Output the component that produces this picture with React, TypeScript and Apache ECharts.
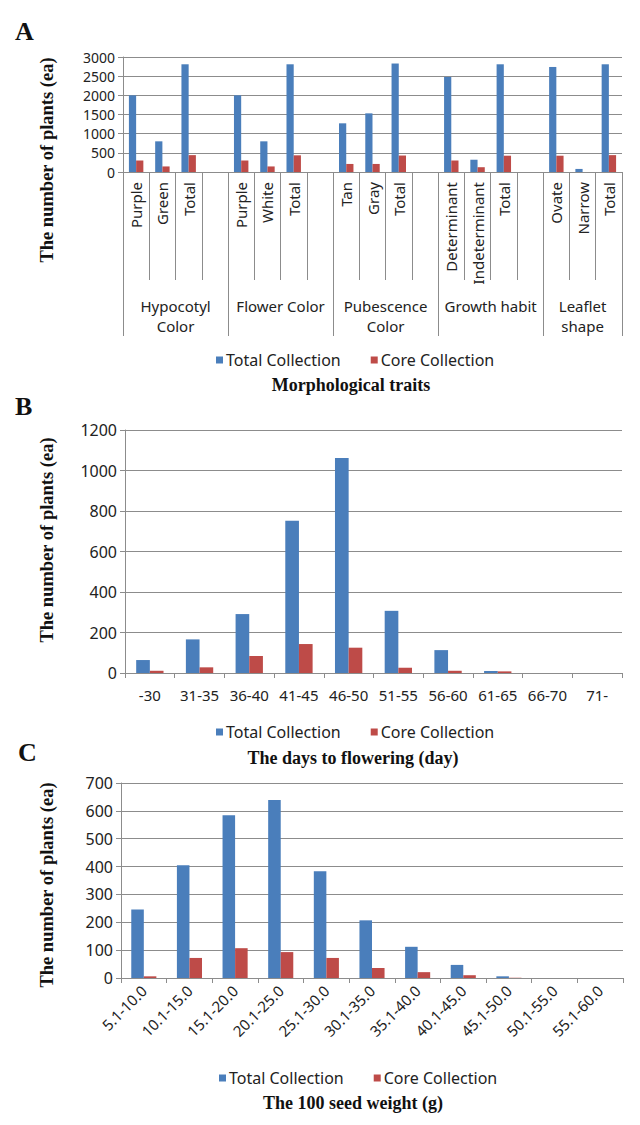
import React, { useEffect, useRef } from "react";
import * as echarts from "echarts";

// ---------- Data ----------
const SERIES_NAMES = ["Total Collection", "Core Collection"];

// Panel A: morphological traits
const CATEGORIES_A = [
  "Purple", "Green", "Total", "",
  "Purple", "White", "Total", "",
  "Tan", "Gray", "Total", "",
  "Determinant", "Indeterminant", "Total", "",
  "Ovate", "Narrow", "Total",
];
const TOTAL_A = [
  2000, 800, 2810, null,
  2000, 800, 2810, null,
  1270, 1530, 2830, null,
  2480, 320, 2810, null,
  2740, 80, 2810,
];
const CORE_A = [
  300, 145, 440, null,
  300, 145, 435, null,
  210, 210, 430, null,
  300, 125, 425, null,
  425, 0, 440,
];
const GROUPS_A = ["Hypocotyl\nColor", "Flower Color", "Pubescence\nColor", "Growth habit", "Leaflet\nshape"];
const GROUP_SIZES_A = [4, 4, 4, 4, 3];

// Panel B: days to flowering
const CATEGORIES_B = ["-30", "31-35", "36-40", "41-45", "46-50", "51-55", "56-60", "61-65", "66-70", "71-"];
const TOTAL_B = [64, 166, 291, 752, 1062, 307, 113, 10, 0, 0];
const CORE_B = [11, 28, 84, 143, 125, 26, 11, 8, 0, 0];

// Panel C: 100 seed weight
const CATEGORIES_C = [
  "5.1-10.0", "10.1-15.0", "15.1-20.0", "20.1-25.0", "25.1-30.0", "30.1-35.0",
  "35.1-40.0", "40.1-45.0", "45.1-50.0", "50.1-55.0", "55.1-60.0",
];
const TOTAL_C = [246, 405, 584, 639, 383, 207, 112, 47, 6, 0, 0];
const CORE_C = [6, 72, 107, 93, 72, 36, 21, 10, 1, 0, 0];

const Y_TITLE = "The number of plants (ea)";

// ---------- Styles ----------
const BLUE = "#4a7ebb";
const RED = "#be4b48";
const GRID_COLOR = "#8c8c8c";
const TEXT = "#222";
const SANS = "Noto Sans";
const SERIF = "Liberation Serif";

export default function App() {
  const ref = useRef<HTMLDivElement>(null);

  useEffect(() => {
    if (!ref.current) return;
    const chart = echarts.init(ref.current, null, { renderer: "svg" });

    // group boundaries / centres for panel A (in category units)
    const bounds: number[] = [0];
    GROUP_SIZES_A.forEach((s) => bounds.push(bounds[bounds.length - 1] + s));
    const centers = GROUP_SIZES_A.map((s, i) => bounds[i] + s / 2);

    const yAxisBase = (max: number, interval: number, gridIndex: number, fontSize: number) => ({
      type: "value",
      gridIndex,
      min: 0,
      max,
      interval,
      axisLine: { show: true, lineStyle: { color: GRID_COLOR } },
      axisTick: { show: true, length: 5, lineStyle: { color: GRID_COLOR } },
      axisLabel: {
        fontSize,
        lineHeight: fontSize,
        color: TEXT,
        fontFamily: SANS,
        margin: 8,
        formatter: (v: number) => String(v),
      },
      splitLine: { show: true, lineStyle: { color: GRID_COLOR, width: 1 } },
    });

    const barSeries = (name: string, data: (number | null)[], xi: number, yi: number, color: string) => ({
      type: "bar",
      name,
      data,
      xAxisIndex: xi,
      yAxisIndex: yi,
      itemStyle: { color },
      barGap: "0%",
      barCategoryGap: "45%",
    });

    const legend = (left: number, top: number) => ({
      data: SERIES_NAMES,
      left,
      top,
      icon: "rect",
      itemWidth: 7,
      itemHeight: 7,
      itemGap: 30,
      padding: 0,
      selectedMode: false,
      textStyle: { fontSize: 16, color: TEXT, fontFamily: SANS, padding: [0, 0, 0, -2] },
    });

    const text = (str: string, x: number, y: number, size: number, rotation = 0, align = "center") => ({
      type: "text",
      x,
      y,
      rotation,
      style: {
        text: str,
        fontFamily: SERIF,
        fontWeight: "bold",
        fontSize: size,
        fill: "#111",
        align,
        verticalAlign: "middle",
      },
    });

    const option: any = {
      animation: false,
      backgroundColor: "#fff",
      grid: [
        { left: 123, width: 499, top: 57, height: 115 },
        { left: 125, width: 497, top: 430, height: 243 },
        { left: 121, width: 502, top: 783, height: 195 },
      ],
      xAxis: [
        {
          type: "category",
          gridIndex: 0,
          position: "bottom",
          data: CATEGORIES_A,
          axisLine: { show: true, lineStyle: { color: GRID_COLOR } },
          axisTick: { show: true, interval: 0, length: 108, lineStyle: { color: GRID_COLOR } },
          axisLabel: { interval: 0, rotate: 90, margin: 10, fontSize: 15, color: TEXT, fontFamily: SANS },
          splitLine: { show: false },
        },
        {
          type: "value",
          gridIndex: 0,
          position: "bottom",
          offset: 0,
          min: 0,
          max: bounds[bounds.length - 1],
          axisLine: { show: false },
          splitLine: { show: false },
          axisTick: {
            show: true,
            customValues: bounds,
            length: 164,
            lineStyle: { color: GRID_COLOR },
          },
          axisLabel: {
            show: true,
            customValues: centers,
            formatter: (v: number) => {
              const i = centers.findIndex((c) => Math.abs(c - v) < 1e-6);
              return i >= 0 ? GROUPS_A[i] : "";
            },
            margin: 124,
            lineHeight: 20,
            fontSize: 15,
            color: TEXT,
            fontFamily: SANS,
          },
        },
        {
          type: "category",
          gridIndex: 1,
          data: CATEGORIES_B,
          axisLine: { show: true, lineStyle: { color: GRID_COLOR } },
          axisTick: { show: true, interval: 0, length: 5, lineStyle: { color: GRID_COLOR } },
          axisLabel: { interval: 0, margin: 14, fontSize: 15, color: TEXT, fontFamily: SANS },
        },
        {
          type: "category",
          gridIndex: 2,
          data: CATEGORIES_C,
          axisLine: { show: true, lineStyle: { color: GRID_COLOR } },
          axisTick: { show: true, interval: 0, length: 5, lineStyle: { color: GRID_COLOR } },
          axisLabel: { interval: 0, rotate: 45, margin: 10, fontSize: 15, color: TEXT, fontFamily: SANS },
        },
      ],
      yAxis: [yAxisBase(3000, 500, 0, 14), yAxisBase(1200, 200, 1, 16), yAxisBase(700, 100, 2, 16)],
      legend: [legend(216, 352), legend(216, 724), legend(219, 1070)],
      series: [
        barSeries(SERIES_NAMES[0], TOTAL_A, 0, 0, BLUE),
        barSeries(SERIES_NAMES[1], CORE_A, 0, 0, RED),
        barSeries(SERIES_NAMES[0], TOTAL_B, 2, 1, BLUE),
        barSeries(SERIES_NAMES[1], CORE_B, 2, 1, RED),
        barSeries(SERIES_NAMES[0], TOTAL_C, 3, 2, BLUE),
        barSeries(SERIES_NAMES[1], CORE_C, 3, 2, RED),
      ],
      graphic: [
        text("A", 15, 31, 26, 0, "left"),
        text("B", 15, 406, 26, 0, "left"),
        text("C", 18, 752, 26, 0, "left"),
        text(Y_TITLE, 47, 160, 18.5, Math.PI / 2),
        text(Y_TITLE, 47, 540, 18.5, Math.PI / 2),
        text(Y_TITLE, 47, 885, 18.5, Math.PI / 2),
        text("Morphological traits", 351, 385, 18),
        text("The days to flowering (day)", 353, 758, 18),
        text("The 100 seed weight (g)", 353, 1103, 18),
      ],
    };

    chart.setOption(option);
    return () => chart.dispose();
  }, []);

  return (
    <div
      ref={ref}
      style={{ position: "absolute", left: 0, top: 0, width: 640, height: 1125, background: "#fff" }}
    />
  );
}
